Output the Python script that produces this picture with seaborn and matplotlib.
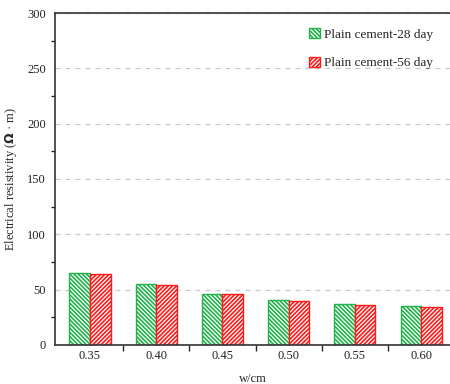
import matplotlib
matplotlib.use("Agg")
import matplotlib.pyplot as plt
import seaborn as sns
import pandas as pd
from matplotlib.patches import Patch
from matplotlib.ticker import MultipleLocator, FixedLocator

categories = ["0.35", "0.40", "0.45", "0.50", "0.55", "0.60"]
day28 = [65, 55, 46, 40.5, 36.5, 35]
day56 = [64, 54, 46, 40, 36, 34]
series = ["Plain cement-28 day", "Plain cement-56 day"]

df = pd.DataFrame({
    "wcm": categories * 2,
    "val": day28 + day56,
    "series": [series[0]] * len(categories) + [series[1]] * len(categories),
})

sns.set_style("white")
plt.rcParams["font.family"] = ["Liberation Serif", "DejaVu Serif"]
plt.rcParams["hatch.linewidth"] = 1.2

green = "#22b14c"
red = "#ff1a1a"

fig = plt.figure(figsize=(4.5, 3.84), dpi=100)
ax = fig.add_axes([0.122, 0.102, 0.88, 0.864])

sns.barplot(data=df, x="wcm", y="val", hue="series", order=categories,
            hue_order=series, width=0.62, palette=[green, red],
            legend=False, ax=ax, saturation=1)

hatches = ["\\" * 8, "/" * 8]
cols = [green, red]
for ci, cont in enumerate(ax.containers):
    for b in cont:
        b.set_facecolor("white")
        b.set_edgecolor(cols[ci])
        b.set_hatch(hatches[ci])
        b.set_linewidth(1.0)

ax.set_ylim(0, 300)
ax.set_xlim(-0.53, 5.45)
ax.yaxis.set_major_locator(MultipleLocator(50))
ax.yaxis.set_minor_locator(MultipleLocator(25))
ax.xaxis.set_minor_locator(FixedLocator([0.5, 1.5, 2.5, 3.5, 4.5]))
ax.yaxis.grid(True, which="major", linestyle=(0, (4, 4)), color="#c8c8c8", linewidth=0.9)
ax.set_axisbelow(True)

for s in ["left", "bottom", "top"]:
    ax.spines[s].set_color("#333333")
    ax.spines[s].set_linewidth(1.2)
ax.spines["right"].set_visible(False)

ax.tick_params(axis="y", which="major", direction="inout", length=6, width=1, labelsize=9, colors="#222222")
ax.tick_params(axis="y", which="minor", direction="out", length=3, width=1, left=True)
ax.tick_params(axis="x", which="major", direction="in", length=4, width=1, labelsize=9, bottom=True, colors="#222222")
ax.tick_params(axis="x", which="minor", direction="out", length=4, width=1, bottom=True)

ax.set_xlabel("w/cm", fontsize=9, labelpad=8)
ax.set_ylabel("Electrical resistivity ($\\mathbf{\\Omega}$ · m)", fontsize=9, labelpad=6)

handles = [Patch(facecolor="white", edgecolor=cols[i], hatch=hatches[i], linewidth=1.0) for i in range(2)]
ax.legend(handles, series, loc="upper right", bbox_to_anchor=(0.985, 0.99), frameon=False,
          fontsize=9.5, handlelength=0.8, handleheight=0.8, handletextpad=0.3, labelspacing=1.2)

fig.savefig("out.png", dpi=100)
